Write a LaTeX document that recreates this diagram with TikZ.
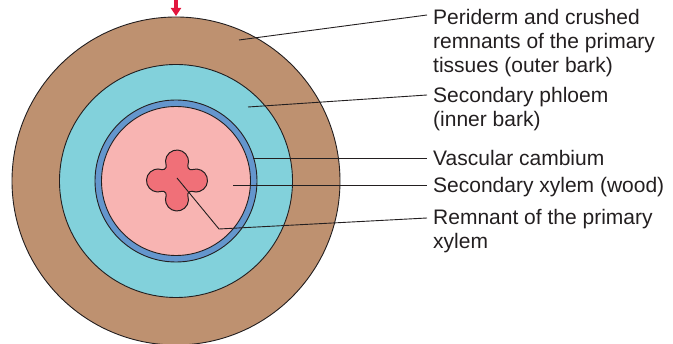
\documentclass[tikz,border=0pt]{standalone}
\usepackage{fontspec}
\setmainfont{Liberation Sans}
\usetikzlibrary{arrows.meta}

\definecolor{barkbrown}{RGB}{190,145,112}
\definecolor{phloemcyan}{RGB}{130,209,219}
\definecolor{cambiumblue}{RGB}{100,150,205}
\definecolor{woodpink}{RGB}{248,180,178}
\definecolor{corered}{RGB}{240,112,120}
\definecolor{pointerred}{RGB}{226,22,62}
\definecolor{inkdark}{RGB}{35,31,32}

\tikzset{
  layer/.style={circle, draw=inkdark, line width=0.9pt, inner sep=0pt},
  leader/.style={draw=inkdark, line width=0.9pt},
  caption/.style={anchor=base west, inner sep=0pt, text=inkdark,
    font=\fontsize{21pt}{24pt}\selectfont},
}

\newcommand{\labeltext}[1]{\begin{tabular}[t]{@{}l@{}}#1\end{tabular}}

\begin{document}
\begin{tikzpicture}[x=1pt, y=-1pt]
\useasboundingbox (0,0) rectangle (673,344);

% concentric tissue layers of the stem
\node[layer, fill=barkbrown, minimum size=328pt] (outerbark) at (176,181) {};
\node[layer, fill=phloemcyan, minimum size=233pt] (innerbark) at (176,181) {};
\node[layer, fill=cambiumblue, minimum size=162pt] (cambium) at (176,181) {};
\node[layer, fill=woodpink, minimum size=149pt] (wood) at (176,181) {};
\coordinate (core) at (177,180.5);

% four-lobed remnant of the primary xylem: lobes r=11.5 joined by necks r=3.5
\draw[draw=inkdark, line width=1pt, fill=corered]
  ([shift={(15.336,-10.901)}]core)
  arc[start angle=-108.58, end angle=108.58, radius=11.5]
  arc[start angle=288.58, end angle=161.42, radius=3.5]
  arc[start angle=-18.58, end angle=198.58, radius=11.5]
  arc[start angle=378.58, end angle=251.42, radius=3.5]
  arc[start angle=71.42, end angle=288.58, radius=11.5]
  arc[start angle=468.58, end angle=341.42, radius=3.5]
  arc[start angle=161.42, end angle=378.58, radius=11.5]
  arc[start angle=558.58, end angle=431.42, radius=3.5]
  -- cycle;

% pointer at the top of the section
\coordinate (pointertail) at (176,0);
\coordinate (pointertip) at (176,16);
\draw[pointerred, line width=3.5pt, -{Triangle[width=10pt, length=8pt]}] (pointertail) -- (pointertip);

% captions
\node[caption] (lblperiderm) at (433,25)
  {\labeltext{Periderm and crushed\\remnants of the primary\\tissues (outer bark)}};
\node[caption] (lblphloem) at (433,103)
  {\labeltext{Secondary phloem\\(inner bark)}};
\node[caption] (lblcambium) at (433,166)
  {\labeltext{Vascular cambium}};
\node[caption] (lblxylem) at (433,193)
  {\labeltext{Secondary xylem (wood)}};
\node[caption] (lblremnant) at (433,225)
  {\labeltext{Remnant of the primary\\xylem}};

% leader lines
\coordinate (pperiderm) at (239,40);
\coordinate (eperiderm) at (427,15);
\coordinate (pphloem) at (248,107);
\coordinate (ephloem) at (427,95);
\coordinate (pcambium) at (253,158.5);
\coordinate (ecambium) at (427,158.5);
\coordinate (pxylem) at (233,185);
\coordinate (exylem) at (427,185);
\coordinate (pbend) at (219,229);
\coordinate (eremnant) at (427,218);

\draw[leader] (pperiderm) -- (eperiderm);
\draw[leader] (pphloem) -- (ephloem);
\draw[leader] (pcambium) -- (ecambium);
\draw[leader] (pxylem) -- (exylem);
\draw[leader] ([yshift=2.5pt]core) -- (pbend) -- (eremnant);
\end{tikzpicture}
\end{document}
